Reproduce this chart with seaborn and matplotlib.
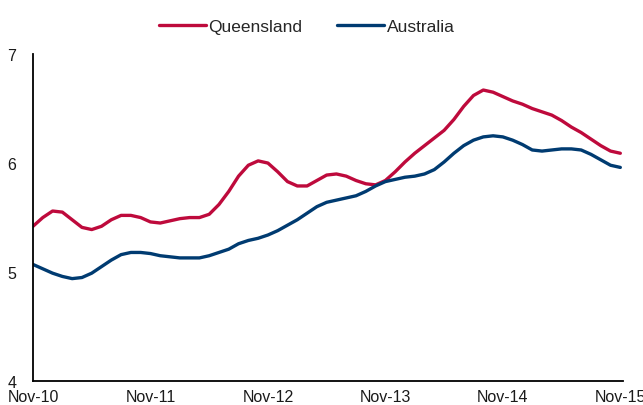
"""Unemployment rate trend, Queensland vs Australia."""

import numpy as np
import pandas as pd

import seaborn as sns
import matplotlib.pyplot as plt

###################################################################################################
###################################################################################################

# Monthly trend values, Nov-10 to Nov-15 (61 months)
queensland = [5.42, 5.50, 5.56, 5.55, 5.48, 5.41, 5.39, 5.42, 5.48, 5.52,
              5.52, 5.50, 5.46, 5.45, 5.47, 5.49, 5.50, 5.50, 5.53, 5.62,
              5.74, 5.88, 5.98, 6.02, 6.00, 5.92, 5.83, 5.79, 5.79, 5.84,
              5.89, 5.90, 5.88, 5.84, 5.81, 5.80, 5.84, 5.92, 6.01, 6.09,
              6.16, 6.23, 6.30, 6.40, 6.52, 6.62, 6.67, 6.65, 6.61, 6.57,
              6.54, 6.50, 6.47, 6.44, 6.39, 6.33, 6.28, 6.22, 6.16, 6.11,
              6.09]
australia = [5.07, 5.03, 4.99, 4.96, 4.94, 4.95, 4.99, 5.05, 5.11, 5.16,
             5.18, 5.18, 5.17, 5.15, 5.14, 5.13, 5.13, 5.13, 5.15, 5.18,
             5.21, 5.26, 5.29, 5.31, 5.34, 5.38, 5.43, 5.48, 5.54, 5.60,
             5.64, 5.66, 5.68, 5.70, 5.74, 5.79, 5.83, 5.85, 5.87, 5.88,
             5.90, 5.94, 6.01, 6.09, 6.16, 6.21, 6.24, 6.25, 6.24, 6.21,
             6.17, 6.12, 6.11, 6.12, 6.13, 6.13, 6.12, 6.08, 6.03, 5.98,
             5.96]
tick_labels = ['Nov-10', 'Nov-11', 'Nov-12', 'Nov-13', 'Nov-14', 'Nov-15']

months = np.arange(len(queensland))
df = pd.DataFrame({'month': np.concatenate([months, months]),
                   'rate': queensland + australia,
                   'region': ['Queensland'] * len(queensland) + ['Australia'] * len(australia)})

sns.set_style('white')
plt.rcParams['font.family'] = ['Liberation Sans', 'DejaVu Sans']

fig = plt.figure(figsize=[6.43, 4.06], dpi=100)
ax = fig.add_axes([0.0513, 0.0589, 0.918, 0.8055])

palette = {'Queensland': '#BE0A3C', 'Australia': '#003B71'}
sns.lineplot(data=df, x='month', y='rate', hue='region', palette=palette,
             linewidth=2.4, ax=ax, legend=False)
for line in ax.get_lines():
    line.set_solid_joinstyle('round')
    line.set_solid_capstyle('round')

ax.set_xlim(0, 60.3)
ax.set_ylim(4, 7)
ax.set_xticks(np.arange(0, 61, 12))
ax.set_xticklabels(tick_labels)
ax.set_yticks([4, 5, 6, 7])
ax.set_xlabel('')
ax.set_ylabel('')
ax.tick_params(axis='both', length=0, labelsize=11.5, colors='#1a1a1a')
ax.tick_params(axis='x', pad=6)
ax.tick_params(axis='y', pad=12)

# Only the left & bottom frame
ax.spines['right'].set_visible(False)
ax.spines['top'].set_visible(False)
ax.spines['left'].set_linewidth(1.3)
ax.spines['bottom'].set_linewidth(1.3)
ax.spines['left'].set_color('black')
ax.spines['bottom'].set_color('black')

handles = [plt.Line2D([], [], color=palette[k], linewidth=2.4) for k in ['Queensland', 'Australia']]
fig.legend(handles, ['Queensland', 'Australia'], loc='center', bbox_to_anchor=(0.477, 0.933),
           ncol=2, frameon=False, fontsize=12.5, handlelength=2.7, handletextpad=0.15,
           columnspacing=2.0)

plt.savefig('out.png', dpi=100)
